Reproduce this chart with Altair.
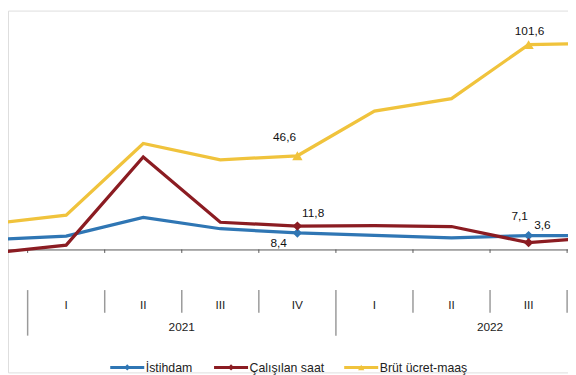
import altair as alt
import pandas as pd

# ---- data ----
quarters = ["IV", "I", "II", "III", "IV", "I", "II", "III", "IV"]
years = ["2020", "2021", "2021", "2021", "2021", "2022", "2022", "2022", "2022"]
series_names = ["İstihdam", "Çalışılan saat", "Brüt ücret-maaş"]
istihdam = [5.0, 6.9, 16.1, 10.5, 8.4, 7.2, 6.0, 7.1, 7.0]
calisilan = [-1.7, 2.4, 46.0, 13.7, 11.8, 12.0, 11.6, 3.6, 6.5]
brut = [12.8, 17.2, 52.7, 44.6, 46.6, 68.7, 74.9, 101.6, 102.3]
labelled_periods = [4, 7]
colors = ["#2f76b4", "#8b1c22", "#f0c33c"]
marker_shapes = ["diamond", "diamond", "triangle-up"]

FONT = "Liberation Sans"
W, H = 568, 367
X_DOMAIN = [0.2452, 7.5115]

rows = []
for name, vals in zip(series_names, [istihdam, calisilan, brut]):
    for i, v in enumerate(vals):
        rows.append({"i": i, "series": name, "v": v,
                     "label": f"{v:.1f}".replace(".", ",")})
df = pd.DataFrame(rows)

xs = alt.Scale(domain=X_DOMAIN, nice=False, zero=False)
ys = alt.Scale(domain=[-60.59, 118.44], nice=False, zero=False)
X = alt.X("i:Q", scale=xs, axis=None)
Y = alt.Y("v:Q", scale=ys, axis=None)

layers = []

# baseline (value 0)
layers.append(alt.Chart(pd.DataFrame({"v": [0]})).mark_rule(color="#555555", strokeWidth=1)
              .encode(y=Y, x=alt.value(0), x2=alt.value(W)))

# category separators and ticks (only those inside the visible window)
sep_pos = [k + 0.5 for k in range(0, 8)]
seps = pd.DataFrame({"i": sep_pos, "year": [p in (0.5, 4.5) for p in sep_pos]})
layers.append(alt.Chart(seps).mark_rule(color="#555555", strokeWidth=1)
              .encode(x=X, y=alt.value(242.3), y2=alt.value(245.8)))
layers.append(alt.Chart(seps).transform_filter("!datum.year")
              .mark_rule(color="#9a9a9a", strokeWidth=1.5)
              .encode(x=X, y=alt.value(283.5), y2=alt.value(306.5)))
layers.append(alt.Chart(seps).transform_filter("datum.year")
              .mark_rule(color="#9a9a9a", strokeWidth=1.5)
              .encode(x=X, y=alt.value(283.5), y2=alt.value(329.7)))

# quarter labels (those whose slot is visible) and year labels
qdf = pd.DataFrame({"i": list(range(len(quarters))), "q": quarters})
qdf = qdf[(qdf["i"] > X_DOMAIN[0] + 0.3) & (qdf["i"] < X_DOMAIN[1] - 0.3)]
layers.append(alt.Chart(qdf).mark_text(font=FONT, fontSize=12, color="#222222",
                                       baseline="middle", align="center")
              .encode(x=X, y=alt.value(298.5), text="q:N"))
ydf = pd.DataFrame({"year": years, "i": list(range(len(years)))})
ydf = ydf.groupby("year", as_index=False)["i"].mean()
ydf = ydf[ydf["year"] != "2020"]
ydf.loc[ydf["year"] == "2022", "i"] = 6.5
layers.append(alt.Chart(ydf).mark_text(font=FONT, fontSize=12, color="#222222",
                                       baseline="middle", align="center")
              .encode(x=X, y=alt.value(321), text="year:N"))

# lines
for name, col in zip(series_names, colors):
    layers.append(alt.Chart(df).transform_filter(alt.datum.series == name)
                  .mark_line(color=col, strokeWidth=3.3, clip=True)
                  .encode(x=X, y=Y))

# markers at labelled periods
for name, col, shp in zip(series_names, colors, marker_shapes):
    layers.append(alt.Chart(df)
                  .transform_filter(alt.datum.series == name)
                  .transform_filter(alt.FieldOneOfPredicate(field="i", oneOf=labelled_periods))
                  .mark_point(shape=shp, filled=True, color=col, opacity=1,
                              size=110 if shp == "triangle-up" else 90)
                  .encode(x=X, y=Y))

# value labels
offsets = {
    ("Brüt ücret-maaş", 4): (-13, -19), ("Brüt ücret-maaş", 7): (1, -13.5),
    ("Çalışılan saat", 4): (16, -13.5), ("Çalışılan saat", 7): (14, -17.5),
    ("İstihdam", 4): (-19, 10.5), ("İstihdam", 7): (-9, -20),
}
for (name, idx), (dx, dy) in offsets.items():
    layers.append(alt.Chart(df)
                  .transform_filter((alt.datum.series == name) & (alt.datum.i == idx))
                  .mark_text(font=FONT, fontSize=12, color="#111111", dx=dx, dy=dy,
                             align="center", baseline="middle")
                  .encode(x=X, y=Y, text="label:N"))

# legend
leg_x = [103.7, 209.0, 341.0]
seg_len = 34.5
leg_y = 362
for name, col, shp, lx in zip(series_names, colors, marker_shapes, leg_x):
    ldf = pd.DataFrame({"series": [name]})
    layers.append(alt.Chart(ldf).mark_rule(color=col, strokeWidth=3)
                  .encode(x=alt.value(lx), x2=alt.value(lx + seg_len), y=alt.value(leg_y)))
    layers.append(alt.Chart(ldf).mark_point(shape=shp, filled=True, color=col, opacity=1, size=40)
                  .encode(x=alt.value(lx + seg_len / 2), y=alt.value(leg_y)))
    layers.append(alt.Chart(ldf).mark_text(font=FONT, fontSize=12.5, color="#222222",
                                           align="left", baseline="middle")
                  .encode(x=alt.value(lx + seg_len + 1.5), y=alt.value(leg_y + 0.5), text="series:N"))

chart = (alt.layer(*layers)
         .properties(width=W, height=H, padding=0,
                     autosize=alt.AutoSizeParams(type="none"))
         .configure_view(stroke=None)
         .configure(background="white"))

chart.save("out.html", embed_options={"renderer": "svg", "actions": False})
